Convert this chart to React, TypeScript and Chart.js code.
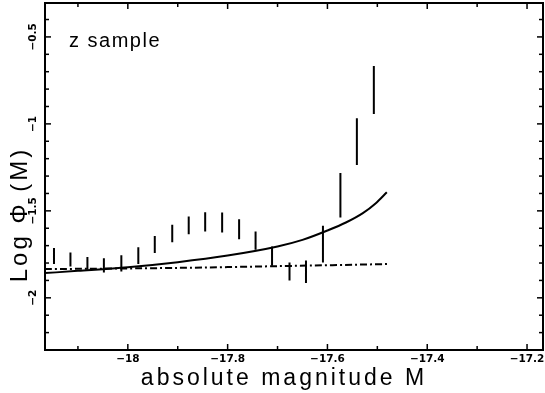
import React, { useEffect, useRef } from "react";
import { Chart, registerables } from "chart.js";

Chart.register(...registerables);

// Data error bars: absolute magnitude, lower and upper log phi
const barX = [-18.148, -18.115, -18.081, -18.048, -18.013, -17.979, -17.946, -17.911, -17.878, -17.845, -17.811, -17.777, -17.744, -17.711, -17.676, -17.643, -17.609, -17.574, -17.541, -17.507];
const barLow = [-1.805, -1.82, -1.839, -1.855, -1.849, -1.805, -1.743, -1.68, -1.634, -1.619, -1.625, -1.663, -1.724, -1.816, -1.9, -1.915, -1.797, -1.538, -1.236, -0.943];
const barHigh = [-1.714, -1.74, -1.766, -1.772, -1.755, -1.709, -1.644, -1.58, -1.533, -1.508, -1.51, -1.548, -1.619, -1.705, -1.797, -1.786, -1.586, -1.283, -0.967, -0.667];

// Solid fit curve
const fitX = [-18.166, -18.1, -18.0, -17.9, -17.8, -17.7, -17.65, -17.6, -17.563, -17.529, -17.503, -17.481];
const fitY = [-1.858, -1.845, -1.824, -1.795, -1.757, -1.705, -1.667, -1.613, -1.567, -1.513, -1.456, -1.393];

// Dash-dot curve
const flatX = [-18.166, -17.9, -17.7, -17.48];
const flatY = [-1.835, -1.828, -1.818, -1.806];

// Axes
const xMin = -18.166;
const xMax = -17.168;
const yMin = -2.3;
const yMax = -0.305;
const xMajorTicks = [-18, -17.8, -17.6, -17.4, -17.2];
const xTickLabels = ["\u221218", "\u221217.8", "\u221217.6", "\u221217.4", "\u221217.2"];
const yMajorTicks = [-2, -1.5, -1, -0.5];
const yTickLabels = ["\u22122", "\u22121.5", "\u22121", "\u22120.5"];
const xTitle = "absolute magnitude M";
const yTitle = "Log \u03A6 (M)";
const note = "z sample";

const framePlugin = {
  id: "framePlugin",
  afterDraw(chart: any) {
    const { ctx, chartArea: a, scales } = chart;
    const x = scales.x;
    const y = scales.y;
    ctx.save();
    ctx.strokeStyle = "#000";
    ctx.fillStyle = "#000";
    ctx.lineWidth = 2;
    ctx.strokeRect(a.left, a.top, a.right - a.left, a.bottom - a.top);
    ctx.lineWidth = 1.5;
    const seg = (x1: number, y1: number, x2: number, y2: number) => {
      ctx.beginPath();
      ctx.moveTo(x1, y1);
      ctx.lineTo(x2, y2);
      ctx.stroke();
    };
    for (let i = -182; i <= -171; i++) {
      const v = i / 10;
      if (v < xMin || v > xMax) continue;
      const px = x.getPixelForValue(v);
      const len = i % 2 === 0 ? 6 : 4;
      seg(px, a.bottom, px, a.bottom - len);
      seg(px, a.top, px, a.top + len);
    }
    for (let i = -23; i <= -3; i++) {
      const v = i / 10;
      if (v < yMin || v > yMax) continue;
      const py = y.getPixelForValue(v);
      const len = i % 5 === 0 ? 6 : 4;
      seg(a.left, py, a.left + len, py);
      seg(a.right, py, a.right - len, py);
    }
    ctx.font = "bold 10.5px 'DejaVu Sans'";
    ctx.textAlign = "center";
    ctx.textBaseline = "middle";
    xMajorTicks.forEach((v, i) => {
      ctx.fillText(xTickLabels[i], x.getPixelForValue(v), a.bottom + 9);
    });
    yMajorTicks.forEach((v, i) => {
      ctx.save();
      ctx.translate(a.left - 12, y.getPixelForValue(v));
      ctx.rotate(-Math.PI / 2);
      ctx.fillText(yTickLabels[i], 0, 0);
      ctx.restore();
    });
    // axis titles
    ctx.textBaseline = "alphabetic";
    (ctx as any).letterSpacing = "3px";
    ctx.font = "23px 'Liberation Sans'";
    ctx.textAlign = "center";
    ctx.fillText(xTitle, 284, a.bottom + 35);
    ctx.save();
    ctx.font = "24px 'Liberation Sans'";
    ctx.translate(a.left - 18, (a.top + a.bottom) / 2 + 38);
    ctx.rotate(-Math.PI / 2);
    ctx.fillText(yTitle, 0, 0);
    ctx.restore();
    (ctx as any).letterSpacing = "1.5px";
    ctx.font = "20px 'Liberation Sans'";
    ctx.textAlign = "left";
    ctx.fillText(note, a.left + 24, a.top + 44);
    ctx.restore();
  },
};

export default function App() {
  const ref = useRef<HTMLCanvasElement | null>(null);
  useEffect(() => {
    if (!ref.current) return;
    const barPts: any[] = [];
    barX.forEach((bx, i) => {
      barPts.push({ x: bx, y: barLow[i] });
      barPts.push({ x: bx, y: barHigh[i] });
      barPts.push({ x: bx, y: null });
    });
    const chart = new Chart(ref.current, {
      type: "line",
      data: {
        datasets: [
          {
            data: fitX.map((v, i) => ({ x: v, y: fitY[i] })),
            borderColor: "#000",
            borderWidth: 2,
            pointRadius: 0,
            cubicInterpolationMode: "monotone",
          },
          {
            data: flatX.map((v, i) => ({ x: v, y: flatY[i] })),
            borderColor: "#000",
            borderWidth: 2,
            borderDash: [7, 3, 2, 3],
            pointRadius: 0,
            tension: 0.3,
          },
          {
            data: barPts,
            borderColor: "#000",
            borderWidth: 2,
            pointRadius: 0,
            spanGaps: false,
          },
        ] as any,
      },
      options: {
        responsive: false,
        animation: false,
        devicePixelRatio: 1,
        layout: { padding: { top: 3, right: 2, left: 0, bottom: 0 } },
        plugins: { legend: { display: false }, tooltip: { enabled: false } },
        scales: {
          x: {
            type: "linear",
            min: xMin,
            max: xMax,
            offset: false,
            ticks: { display: false },
            grid: { display: false },
            border: { display: false },
            afterFit: (s: any) => {
              s.height = 43;
            },
          },
          y: {
            type: "linear",
            min: yMin,
            max: yMax,
            ticks: { display: false },
            grid: { display: false },
            border: { display: false },
            afterFit: (s: any) => {
              s.width = 45;
            },
          },
        },
      } as any,
      plugins: [framePlugin],
    });
    return () => chart.destroy();
  }, []);
  return (
    <div style={{ position: "fixed", left: 0, top: 0, width: 545, height: 393, background: "#fff" }}>
      <canvas ref={ref} width={545} height={393} style={{ display: "block" }} />
    </div>
  );
}
